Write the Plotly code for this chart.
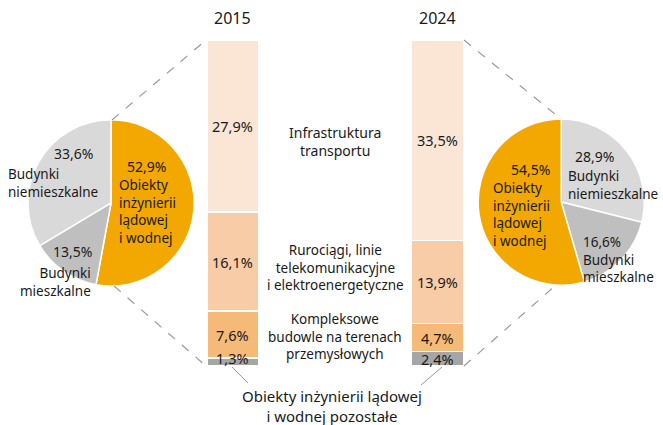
import plotly.graph_objects as go

# --- data -------------------------------------------------------------
years = ["2015", "2024"]

# structure of civil-engineering works (stacked bars, % of total output)
bar_categories = [
    "Obiekty inżynierii lądowej i wodnej pozostałe",
    "Kompleksowe budowle na terenach przemysłowych",
    "Rurociągi, linie telekomunikacyjne i elektroenergetyczne",
    "Infrastruktura transportu",
]
bar_2015 = [1.3, 7.6, 16.1, 27.9]
bar_2024 = [2.4, 4.7, 13.9, 33.5]
bar_colors = ["#A6A6A6", "#F5B978", "#F8CCA7", "#FBE5D5"]

# construction output by building type (pies)
pie_labels = ["Obiekty inżynierii lądowej i wodnej", "Budynki mieszkalne",
              "Budynki niemieszkalne"]
pie_2015 = [52.9, 13.5, 33.6]
pie_2024 = [54.5, 16.6, 28.9]
pie_colors = ["#F2A800", "#BFBFBF", "#D9D9D9"]

FONT = "Noto Sans"
TXT = "#1a1a1a"
LINE = 1.3  # plotly's line height for multi-line text


def pl(v):
    return f"{v:.1f}".replace(".", ",") + "%"


fig = go.Figure()

# --- stacked, normalised bars -----------------------------------------
for i, cat in enumerate(bar_categories):
    fig.add_trace(go.Bar(
        x=years, y=[bar_2015[i], bar_2024[i]], name=cat,
        marker=dict(color=bar_colors[i], line=dict(color="white", width=1.5)),
        textposition="none", hoverinfo="skip", showlegend=False,
    ))

# --- pies ---------------------------------------------------------------
fig.add_trace(go.Pie(
    values=pie_2015, labels=pie_labels, sort=False, direction="clockwise",
    rotation=0, marker=dict(colors=pie_colors, line=dict(color="white", width=1.5)),
    textinfo="none", hoverinfo="skip", showlegend=False,
    domain=dict(x=[0.042, 0.293], y=[0.327, 0.718]),
))
# 2024 pie: grey slices run clockwise from 12 o'clock, orange closes the circle
order = [2, 1, 0]
fig.add_trace(go.Pie(
    values=[pie_2024[k] for k in order], labels=[pie_labels[k] for k in order],
    sort=False, direction="clockwise", rotation=0,
    marker=dict(colors=[pie_colors[k] for k in order],
                line=dict(color="white", width=1.5)),
    textinfo="none", hoverinfo="skip", showlegend=False,
    domain=dict(x=[0.721, 0.972], y=[0.329, 0.720]),
))

fig.update_layout(
    width=663, height=425, margin=dict(l=0, r=0, t=0, b=0),
    paper_bgcolor="white", plot_bgcolor="white",
    barmode="stack", barnorm="percent", bargap=0.746,
    xaxis=dict(domain=[0.1972, 0.8141], range=[-0.5, 1.5], visible=False,
               type="category", fixedrange=True),
    yaxis=dict(domain=[0.1388, 0.9059], range=[0, 100], visible=False,
               fixedrange=True),
    font=dict(family=FONT, color=TXT),
)

ann = []

# value labels centred on each bar segment (positions from normalised data);
# the thin bottom segment of 2015 gets its label nudged up a little
for xi, vals in enumerate([bar_2015, bar_2024]):
    total = sum(vals)
    cum = 0.0
    for j, v in enumerate(vals):
        mid = (cum + v / 2) / total * 100
        cum += v
        ann.append(dict(x=xi, y=mid, xref="x", yref="y", text=pl(v),
                        showarrow=False, xanchor="center", yanchor="middle",
                        yshift=4 if (j == 0 and xi == 0) else 0,
                        font=dict(family=FONT, size=14.5, color=TXT)))


def px(x, y):
    return x / 663, 1 - y / 425


def block(x, y_first, rows, size=14, xanchor="center", align="center"):
    yc = y_first + (len(rows) - 1) * LINE * size / 2
    xx, yy = px(x, yc)
    ann.append(dict(x=xx, y=yy, xref="paper", yref="paper",
                    text="<br>".join(rows), showarrow=False,
                    xanchor=xanchor, yanchor="middle", align=align,
                    font=dict(family=FONT, size=size, color=TXT)))


# year headers
block(233, 18, years[:1], size=16)
block(437, 18, years[1:], size=16)

# category descriptions between the bars
block(335, 132, ["Infrastruktura", "transportu"], size=14)
block(335, 250, ["Rurociągi, linie", "telekomunikacyjne",
                 "i elektroenergetyczne"], size=13.5)
block(335, 319, ["Kompleksowe", "budowle na terenach", "przemysłowych"],
      size=13.5)
block(332, 396, ["Obiekty inżynierii lądowej", "i wodnej pozostałe"],
      size=15)

# pie labels 2015
block(146, 166, [pl(pie_2015[0])])
block(117, 185, ["Obiekty", "inżynierii", "lądowej", "i wodnej"],
      size=13.5, xanchor="left", align="left")
block(73, 153, [pl(pie_2015[2])])
block(6, 174, ["Budynki", "niemieszkalne"], size=13.5,
      xanchor="left", align="left")
block(72, 252, [pl(pie_2015[1])])
block(93, 273, ["Budynki", "mieszkalne"], size=13.5,
      xanchor="right", align="right")

# pie labels 2024
block(530, 169, [pl(pie_2024[0])])
block(491, 188, ["Obiekty", "inżynierii", "lądowej", "i wodnej"],
      size=13.5, xanchor="left", align="left")
block(594, 156, [pl(pie_2024[2])])
block(566, 176, ["Budynki", "niemieszkalne"], size=13.5,
      xanchor="left", align="left")
block(581, 242, [pl(pie_2024[1]), "Budynki", "mieszkalne"], size=13.5,
      xanchor="left", align="left")

fig.update_layout(annotations=ann)

# dashed connectors from pies to the bars, thin leaders to the smallest segment
shapes = []


def seg(x0, y0, x1, y1, dash="dash", width=1.2):
    a = px(x0, y0)
    b = px(x1, y1)
    shapes.append(dict(type="line", xref="paper", yref="paper",
                       x0=a[0], y0=a[1], x1=b[0], y1=b[1],
                       line=dict(color="#9a9a9a", width=width, dash=dash)))


seg(112, 120, 206, 40)
seg(114, 286, 206, 366)
seg(464, 40, 561, 119)
seg(464, 366, 556, 285)
seg(232, 367, 248, 383, dash="solid", width=1)
seg(442, 367, 421, 385, dash="solid", width=1)
fig.update_layout(shapes=shapes)

fig.write_html("out.html")
